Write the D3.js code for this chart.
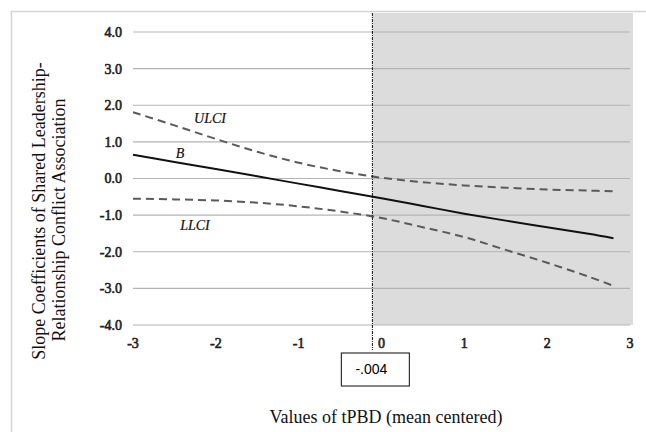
<!DOCTYPE html>
<html lang="en">
<head>
  <meta charset="UTF-8">
  <title>Slope coefficients</title>
  <style>
    body { margin: 0; background: #fff; }
    svg { display: block; }
    .tick-label { font-family: 'Liberation Serif', serif; font-size: 14px; fill: #222; stroke: #222; stroke-width: 0.6px; }
    .title { font-family: 'Liberation Serif', serif; font-size: 18px; fill: #111; }
    .series-label { font-family: 'Liberation Serif', serif; font-style: italic; font-size: 14px; fill: #111; stroke: #111; stroke-width: 0.2px; }
  </style>
</head>
<body>
  <div id="plot"></div>
  <script src="https://cdnjs.cloudflare.com/ajax/libs/d3/7.8.5/d3.min.js"></script>
  <script>
    // values of tPBD (mean centered)
    const xValues = [-3, -2.5, -2, -1.5, -1, -0.5, 0, 0.5, 1, 1.5, 2, 2.5, 2.8];
    // slope coefficient B and its confidence bounds
    const bValues = [0.65, 0.45, 0.26, 0.06, -0.14, -0.34, -0.54, -0.75, -0.96, -1.15, -1.33, -1.51, -1.63];
    const ulciValues = [1.81, 1.45, 1.08, 0.73, 0.43, 0.2, 0.02, -0.1, -0.19, -0.25, -0.3, -0.33, -0.35];
    const llciValues = [-0.55, -0.57, -0.6, -0.66, -0.76, -0.9, -1.08, -1.33, -1.6, -1.95, -2.3, -2.68, -2.93];

    const yTicks = [4, 3, 2, 1, 0, -1, -2, -3, -4];
    const xTicks = [-3, -2, -1, 0, 1, 2, 3];
    // Johnson-Neyman point (line position) and its label
    const jnPosition = -0.11;
    const jnLabel = '-.004';

    const width = 646, height = 432;
    const svg = d3.select('#plot').append('svg')
      .attr('width', width)
      .attr('height', height);

    const x = d3.scaleLinear().domain([-3, 3]).range([133, 630]);
    const y = d3.scaleLinear().domain([-4, 4]).range([325, 32]);

    // chart frame
    svg.append('rect')
      .attr('x', 11.5).attr('y', 11.5)
      .attr('width', 700).attr('height', 500)
      .style('fill', 'none')
      .style('stroke', '#d4d4d4')
      .style('stroke-width', 1.5);

    // shaded region of significance
    svg.append('rect')
      .attr('x', x(jnPosition))
      .attr('y', 13)
      .attr('width', 633 - x(jnPosition))
      .attr('height', y(-4) - 13)
      .style('fill', '#dcdcdc');

    // gridlines
    svg.append('g')
      .selectAll('line')
      .data(yTicks)
      .enter().append('line')
      .attr('x1', x(-3)).attr('x2', x(3))
      .attr('y1', d => y(d)).attr('y2', d => y(d))
      .style('stroke', '#b4b4b4')
      .style('stroke-width', 1.2);

    // y axis tick labels (plain hyphen as in the original)
    svg.append('g')
      .selectAll('text')
      .data(yTicks)
      .enter().append('text')
      .attr('class', 'tick-label')
      .attr('x', 122)
      .attr('y', d => y(d))
      .attr('dy', '0.35em')
      .style('text-anchor', 'end')
      .text(d => d.toFixed(1));

    // x axis tick labels
    svg.append('g')
      .selectAll('text')
      .data(xTicks)
      .enter().append('text')
      .attr('class', 'tick-label')
      .attr('x', d => x(d))
      .attr('y', 348)
      .style('text-anchor', 'middle')
      .text(d => String(d));

    // lines
    const line = values => d3.line()
      .x((d, i) => x(xValues[i]))
      .y(d => y(d))
      .curve(d3.curveCatmullRom)(values);

    svg.append('path')
      .attr('d', line(ulciValues))
      .style('fill', 'none')
      .style('stroke', '#5a5a5a')
      .style('stroke-width', 2)
      .style('stroke-dasharray', '8,5');
    svg.append('path')
      .attr('d', line(llciValues))
      .style('fill', 'none')
      .style('stroke', '#5a5a5a')
      .style('stroke-width', 2)
      .style('stroke-dasharray', '8,5');
    svg.append('path')
      .attr('d', line(bValues))
      .style('fill', 'none')
      .style('stroke', '#111')
      .style('stroke-width', 2);

    // series labels
    svg.append('text').attr('class', 'series-label')
      .attr('x', 210).attr('y', 123).style('text-anchor', 'middle').text('ULCI');
    svg.append('text').attr('class', 'series-label')
      .attr('x', 180).attr('y', 158).style('text-anchor', 'middle').text('B');
    svg.append('text').attr('class', 'series-label')
      .attr('x', 195).attr('y', 230).style('text-anchor', 'middle').text('LLCI');

    // Johnson-Neyman line
    svg.append('line')
      .attr('x1', x(jnPosition)).attr('x2', x(jnPosition))
      .attr('y1', 13).attr('y2', 350)
      .style('stroke', '#111')
      .style('stroke-width', 1)
      .style('stroke-dasharray', '3,1,1,1');

    // label box
    const box = svg.append('g')
      .attr('transform', `translate(${x(jnPosition) - 31}, 353)`);
    box.append('rect')
      .attr('width', 68).attr('height', 33)
      .style('fill', '#fff')
      .style('stroke', '#333')
      .style('stroke-width', 1.2);
    box.append('text')
      .attr('x', 30).attr('y', 21)
      .style('text-anchor', 'middle')
      .style('font-family', 'Liberation Sans, Arial, sans-serif')
      .style('font-size', '14px')
      .text(jnLabel);

    // axis titles
    svg.append('text')
      .attr('class', 'title')
      .attr('x', 386).attr('y', 423)
      .style('text-anchor', 'middle')
      .text('Values of tPBD (mean centered)');

    const yTitle = svg.append('text')
      .attr('class', 'title')
      .attr('transform', 'translate(0, 211) rotate(-90)')
      .style('text-anchor', 'middle');
    yTitle.append('tspan').attr('x', 0).attr('y', 45)
      .text('Slope Coefficients of Shared Leadership-');
    yTitle.append('tspan').attr('x', -9).attr('y', 65)
      .text('Relationship Conflict Association');
  </script>
</body>
</html>
